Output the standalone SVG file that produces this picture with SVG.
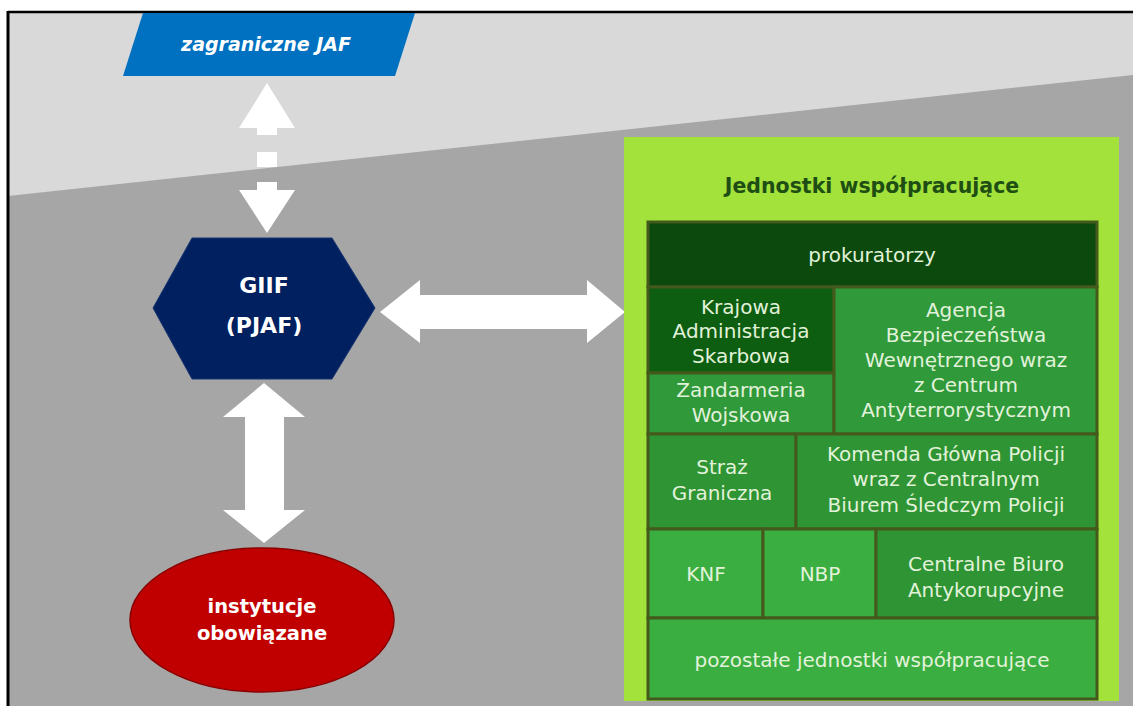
<svg xmlns="http://www.w3.org/2000/svg" width="1133" height="706" viewBox="0 0 1133 706">
  <style>
    .t { font-family: "DejaVu Sans", "Liberation Sans", sans-serif; text-anchor: middle; }
    .ct { font-size: 20px; fill: #e2f2da; }
    .bt { font-weight: bold; fill: #ffffff; }
    .cell { stroke: #44591c; stroke-width: 3; }
    .arrow { fill: #ffffff; }
    .g-dark { fill: #0b4a0c; }
    .g-deep { fill: #0e5e12; }
    .g-mid { fill: #30993a; }
    .g-mid2 { fill: #2e9434; }
    .g-light { fill: #3aae40; }
  </style>

  <!-- background -->
  <rect x="0" y="0" width="1133" height="706" fill="#ffffff"/>
  <rect x="8" y="12" width="1125" height="694" fill="#d9d9d9"/>
  <polygon points="8,196 1133,75 1133,706 8,706" fill="#a6a6a6"/>
  <line x1="8" y1="12" x2="1133" y2="12" stroke="#000000" stroke-width="2.5"/>
  <line x1="8" y1="11" x2="8" y2="706" stroke="#000000" stroke-width="3"/>

  <!-- connectors -->
  <g id="connectors">
    <g id="arrow-jaf-giif">
      <polygon class="arrow" points="267,83 295,128 239,128"/>
      <rect class="arrow" x="257" y="127" width="20" height="8"/>
      <rect class="arrow" x="257" y="152" width="20" height="15"/>
      <rect class="arrow" x="257" y="182" width="20" height="9"/>
      <polygon class="arrow" points="239,190 295,190 267,233"/>
    </g>
    <polygon id="arrow-giif-jednostki" class="arrow" points="380,312 420,280 420,295 587,295 587,280 625,312 587,343 587,329 420,329 420,343"/>
    <polygon id="arrow-giif-instytucje" class="arrow" points="264,383 305,417 284,417 284,510 305,510 264,543 223,510 245,510 245,417 223,417"/>
  </g>

  <!-- zagraniczne JAF -->
  <g id="node-zagraniczne-jaf">
    <polygon points="143,13 415,13 395,76 123,76" fill="#0070c0"/>
    <text class="t bt" x="266" y="51" font-size="19" font-style="italic">zagraniczne JAF</text>
  </g>

  <!-- GIIF -->
  <g id="node-giif">
    <polygon points="153,308 192,238 332,238 375,308 332,379 192,379" fill="#002060" stroke="#1a3570" stroke-width="1"/>
    <text class="t bt" x="264" y="293" font-size="22">GIIF</text>
    <text class="t bt" x="264" y="333" font-size="22">(PJAF)</text>
  </g>

  <!-- instytucje obowiązane -->
  <g id="node-instytucje">
    <ellipse cx="262" cy="620" rx="132" ry="72" fill="#c00000" stroke="#8a0000" stroke-width="1.5"/>
    <text class="t bt" x="262" y="613" font-size="19.5">instytucje</text>
    <text class="t bt" x="262" y="640" font-size="19.5">obowiązane</text>
  </g>

  <!-- Jednostki współpracujące -->
  <g id="node-jednostki">
    <rect x="624" y="137" width="495" height="564" fill="#a2e23b"/>
    <text class="t" x="872" y="193" font-size="20.5" font-weight="bold" fill="#1f4e14">Jednostki współpracujące</text>

    <g id="cell-prokuratorzy">
      <rect class="cell g-dark" x="648" y="222" width="449" height="65"/>
      <text class="t ct" x="872" y="262" fill="#d8e8d0">prokuratorzy</text>
    </g>
    <g id="cell-kas">
      <rect class="cell g-deep" x="648" y="287" width="186" height="86"/>
      <text class="t ct" x="741" y="314">Krajowa</text>
      <text class="t ct" x="741" y="338">Administracja</text>
      <text class="t ct" x="741" y="363">Skarbowa</text>
    </g>
    <g id="cell-zandarmeria">
      <rect class="cell g-mid" x="648" y="373" width="186" height="61"/>
      <text class="t ct" x="741" y="397">Żandarmeria</text>
      <text class="t ct" x="741" y="422">Wojskowa</text>
    </g>
    <g id="cell-abw">
      <rect class="cell g-mid" x="834" y="287" width="263" height="147"/>
      <text class="t ct" x="966" y="317">Agencja</text>
      <text class="t ct" x="966" y="342">Bezpieczeństwa</text>
      <text class="t ct" x="966" y="367">Wewnętrznego wraz</text>
      <text class="t ct" x="966" y="392">z Centrum</text>
      <text class="t ct" x="966" y="417">Antyterrorystycznym</text>
    </g>
    <g id="cell-straz">
      <rect class="cell g-mid2" x="648" y="434" width="148" height="95"/>
      <text class="t ct" x="722" y="474">Straż</text>
      <text class="t ct" x="722" y="500">Graniczna</text>
    </g>
    <g id="cell-kgp">
      <rect class="cell g-mid2" x="796" y="434" width="301" height="95"/>
      <text class="t ct" x="946" y="461">Komenda Główna Policji</text>
      <text class="t ct" x="946" y="486">wraz z Centralnym</text>
      <text class="t ct" x="946" y="512">Biurem Śledczym Policji</text>
    </g>
    <g id="cell-knf">
      <rect class="cell g-light" x="648" y="529" width="115" height="89"/>
      <text class="t ct" x="706" y="581">KNF</text>
    </g>
    <g id="cell-nbp">
      <rect class="cell g-light" x="763" y="529" width="113" height="89"/>
      <text class="t ct" x="820" y="581">NBP</text>
    </g>
    <g id="cell-cba">
      <rect class="cell g-mid2" x="876" y="529" width="221" height="89"/>
      <text class="t ct" x="986" y="571">Centralne Biuro</text>
      <text class="t ct" x="986" y="597">Antykorupcyjne</text>
    </g>
    <g id="cell-pozostale">
      <rect class="cell g-light" x="648" y="618" width="449" height="81"/>
      <text class="t ct" x="872" y="667">pozostałe jednostki współpracujące</text>
    </g>
  </g>
</svg>
